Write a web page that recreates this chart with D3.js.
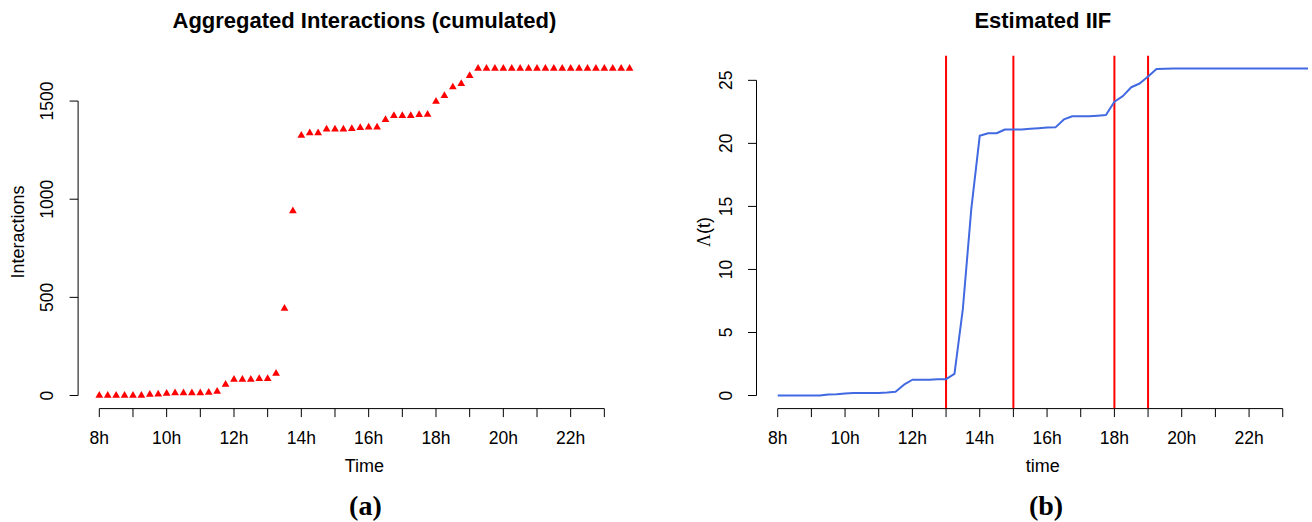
<!DOCTYPE html>
<html>
<head>
<meta charset="utf-8">
<script src="https://cdn.jsdelivr.net/npm/d3@7"></script>
<style>
  html, body { margin: 0; padding: 0; background: #fff; }
  svg { display: block; }
  text { font-family: "Liberation Sans", Arial, Helvetica, sans-serif; fill: #000; }
</style>
</head>
<body>
<svg id="fig" width="1312" height="522"></svg>
<script>
// Observation times in hours (every quarter hour, 8:00 to 23:45)
const hours = d3.range(64).map(i => 8 + i * 0.25);

// Cumulated number of interactions at each time
const interactions = [
  0, 0, 0, 0, 0, 0, 5, 7, 10, 13, 13, 13, 13, 15, 20, 56,
  82, 82, 82, 85, 85, 112, 443, 940, 1325, 1337, 1337, 1357, 1357, 1357, 1359, 1364,
  1367, 1367, 1405, 1425, 1425, 1425, 1430, 1432, 1498, 1527, 1571, 1588, 1629, 1666, 1666, 1666,
  1666, 1666, 1666, 1666, 1666, 1666, 1666, 1666, 1666, 1666, 1666, 1666, 1666, 1666, 1666, 1666
];

// Estimated integrated intensity function Lambda(t)
const iif = [
  0, 0, 0, 0, 0, 0, 0.08, 0.11, 0.16, 0.2, 0.2, 0.2, 0.2, 0.23, 0.3, 0.86,
  1.25, 1.25, 1.25, 1.3, 1.3, 1.72, 6.9, 14.8, 20.6, 20.8, 20.8, 21.1, 21.1, 21.1, 21.15, 21.2,
  21.25, 21.27, 21.9, 22.15, 22.15, 22.15, 22.2, 22.25, 23.3, 23.75, 24.45, 24.75, 25.3, 25.9, 25.92, 25.93,
  25.94, 25.94, 25.94, 25.94, 25.94, 25.94, 25.94, 25.94, 25.94, 25.94, 25.94, 25.94, 25.94, 25.94, 25.94, 25.94
];

// Change points marked on the IIF panel
const changePoints = [13, 15, 18, 19];

// Axis ticks
const hourTicks = d3.range(8, 24);
const hourLabel = h => (h % 2 === 0 ? h + "h" : "");
const interactionTicks = [0, 500, 1000, 1500];
const iifTicks = [0, 5, 10, 15, 20, 25];

const svg = d3.select("#fig");

// Panel geometry
const plotTop = 55.4, plotBottom = 408.6;
const panels = [
  { left: 78.1, right: 650.8 },
  { left: 756.5, right: 1329.2 }
];

// R-style 4% padded domain
function padded(lo, hi) {
  const d = (hi - lo) * 0.04;
  return [lo - d, hi + d];
}

const tickLen = 8.5;
const tickFont = 17.5;
const labelFont = 18;

function drawAxes(g, x, y, yTicks, xLabel) {
  const l = x.range()[0];
  // x axis
  const xa = g.append("g");
  xa.append("line")
    .attr("x1", x(hourTicks[0])).attr("x2", x(hourTicks[hourTicks.length - 1]))
    .attr("y1", plotBottom).attr("y2", plotBottom)
    .attr("stroke", "#000").attr("stroke-width", 1);
  xa.selectAll("line.t").data(hourTicks).join("line").attr("class", "t")
    .attr("x1", d => x(d)).attr("x2", d => x(d))
    .attr("y1", plotBottom).attr("y2", plotBottom + tickLen)
    .attr("stroke", "#000").attr("stroke-width", 1);
  xa.selectAll("text").data(hourTicks.filter(h => hourLabel(h))).join("text")
    .attr("x", d => x(d)).attr("y", 443.5)
    .attr("text-anchor", "middle").attr("font-size", tickFont)
    .text(hourLabel);
  g.append("text")
    .attr("x", (x.range()[0] + x.range()[1]) / 2).attr("y", 471.5)
    .attr("text-anchor", "middle").attr("font-size", labelFont)
    .text(xLabel);

  // y axis
  const ya = g.append("g");
  ya.append("line")
    .attr("x1", l).attr("x2", l)
    .attr("y1", y(yTicks[0])).attr("y2", y(yTicks[yTicks.length - 1]))
    .attr("stroke", "#000").attr("stroke-width", 1);
  ya.selectAll("line.t").data(yTicks).join("line").attr("class", "t")
    .attr("x1", l).attr("x2", l - tickLen)
    .attr("y1", d => y(d)).attr("y2", d => y(d))
    .attr("stroke", "#000").attr("stroke-width", 1);
  ya.selectAll("text").data(yTicks).join("text")
    .attr("transform", d => `translate(${l - 25},${y(d)}) rotate(-90)`)
    .attr("text-anchor", "middle").attr("font-size", tickFont)
    .text(d => d);
}

// ---------- (a) Aggregated interactions ----------
{
  const p = panels[0];
  const g = svg.append("g");
  const x = d3.scaleLinear().domain(padded(d3.min(hours), d3.max(hours))).range([p.left, p.right]);
  const y = d3.scaleLinear().domain(padded(0, d3.max(interactions))).range([plotBottom, plotTop]);

  g.append("text")
    .attr("x", (p.left + p.right) / 2).attr("y", 28)
    .attr("text-anchor", "middle").attr("font-size", 22).attr("font-weight", "bold")
    .text("Aggregated Interactions (cumulated)");

  drawAxes(g, x, y, interactionTicks, "Time");

  g.append("text")
    .attr("transform", `translate(24,${(plotTop + plotBottom) / 2}) rotate(-90)`)
    .attr("text-anchor", "middle").attr("font-size", labelFont)
    .text("Interactions");

  const tri = d3.symbol().type(d3.symbolTriangle).size(26);
  g.append("g").selectAll("path").data(hours).join("path")
    .attr("transform", (h, i) => `translate(${x(h)},${y(interactions[i])})`)
    .attr("d", tri)
    .attr("fill", "#ff0000");

  svg.append("text")
    .attr("x", (p.left + p.right) / 2 + 1).attr("y", 515)
    .attr("text-anchor", "middle").attr("font-size", 28).attr("font-weight", "bold")
    .style("font-family", "'Liberation Serif', 'Times New Roman', serif")
    .text("(a)");
}

// ---------- (b) Estimated IIF ----------
{
  const p = panels[1];
  const g = svg.append("g");
  const x = d3.scaleLinear().domain(padded(d3.min(hours), d3.max(hours))).range([p.left, p.right]);
  const y = d3.scaleLinear().domain(padded(0, d3.max(iif))).range([plotBottom, plotTop]);

  g.append("text")
    .attr("x", (p.left + p.right) / 2).attr("y", 28)
    .attr("text-anchor", "middle").attr("font-size", 22).attr("font-weight", "bold")
    .text("Estimated IIF");

  drawAxes(g, x, y, iifTicks, "time");

  const yl = g.append("text")
    .attr("transform", `translate(710,${(plotTop + plotBottom) / 2}) rotate(-90)`)
    .attr("text-anchor", "middle").attr("font-size", labelFont);
  yl.append("tspan").style("font-family", "'Liberation Serif', 'Times New Roman', serif").text("Λ");
  yl.append("tspan").text("(t)");

  g.append("clipPath").attr("id", "clipB")
    .append("rect").attr("x", p.left).attr("y", plotTop)
    .attr("width", p.right - p.left).attr("height", plotBottom - plotTop);

  const plot = g.append("g").attr("clip-path", "url(#clipB)");

  plot.selectAll("line.cp").data(changePoints).join("line").attr("class", "cp")
    .attr("x1", d => x(d)).attr("x2", d => x(d))
    .attr("y1", plotTop).attr("y2", plotBottom)
    .attr("stroke", "#ff0000").attr("stroke-width", 2);

  const line = d3.line().x(h => x(h)).y((h, i) => y(iif[i]));
  plot.append("path")
    .datum(hours)
    .attr("d", line)
    .attr("fill", "none")
    .attr("stroke", "#4169e1")
    .attr("stroke-width", 2)
    .attr("stroke-linejoin", "round");

  svg.append("text")
    .attr("x", 1046).attr("y", 515)
    .attr("text-anchor", "middle").attr("font-size", 28).attr("font-weight", "bold")
    .style("font-family", "'Liberation Serif', 'Times New Roman', serif")
    .text("(b)");
}
</script>
</body>
</html>
